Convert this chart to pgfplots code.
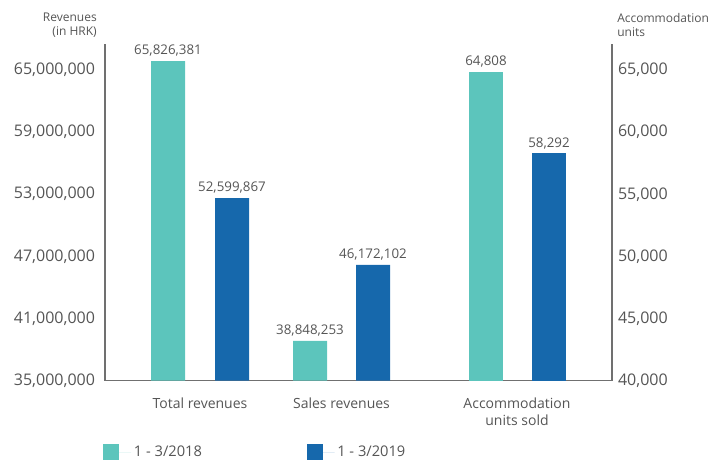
\documentclass[border=0pt]{standalone}
\usepackage{fontspec}
\setmainfont{Open Sans}
\usepackage{pgfplots}
\pgfplotsset{compat=1.18}
\definecolor{tealc}{HTML}{5CC5BC}
\definecolor{bluec}{HTML}{1668AC}
\definecolor{txt}{HTML}{555555}
\definecolor{axl}{HTML}{707070}
\pgfplotsset{
  common/.style={
    anchor=south west, scale only axis,
    width=380.25pt, height=252.75pt,
    xmin=105, xmax=612,
    axis line style={axl, line width=1.1pt, -},
    major tick length=0pt, tick style={draw=none},
    ticklabel style={text=txt},
    yticklabel style={font=\fontsize{12}{14}\selectfont},
    scaled y ticks=false,
    ybar, bar width=25.5pt, bar shift=0pt,
    nodes near coords, point meta=explicit symbolic,
    nodes near coords style={font=\fontsize{10}{12}\selectfont, text=txt, yshift=0pt},
    clip=false,
    axis x line*=bottom,
  }
}
\begin{document}
\begin{tikzpicture}[x=0.75pt,y=0.75pt]
\path (0,0) rectangle (713,460);
\begin{axis}[common, at={(105,76.5)},
  ymin=35000000, ymax=67500000,
  axis y line*=left,
  ytick={35000000,41000000,47000000,53000000,59000000,65000000},
  yticklabels={{35,000,000},{41,000,000},{47,000,000},{53,000,000},{59,000,000},{65,000,000}},
  yticklabel style={xshift=-4pt},
  xtick={200,341.5,517},
  xticklabels={Total revenues, Sales revenues, {Accommodation\\units sold}},
  xticklabel style={align=center, font=\fontsize{10.5}{12.5}\selectfont, yshift=-9.5pt},
  legend columns=2,
  legend image code/.code={\fill[#1] (0pt,-6pt) rectangle (12pt,6pt); \path (12pt,0pt) -- (21pt,0pt);},
  legend style={at={(axis description cs:-0.004,-0.213)}, anchor=west, draw=none, fill=none,
    inner sep=0pt, font=\fontsize{11}{13}\selectfont, text=txt,
    /tikz/every even column/.append style={column sep=76.5pt}},
]
\addplot[fill=tealc, draw=none] coordinates {(168,65826381)[65,826,381] (310,38848253)[38,848,253]};
\addplot[fill=bluec, draw=none] coordinates {(232,52599867)[52,599,867] (373,46172102)[46,172,102]};
\legend{1 - 3/2018, 1 - 3/2019}
\end{axis}
\begin{axis}[common, at={(105,63.5)},
  ymin=40000, ymax=67090,
  axis y line*=right,
  x axis line style={draw=none},
  xtick=\empty,
  ytick={40000,45000,50000,55000,60000,65000},
  yticklabels={{40,000},{45,000},{50,000},{55,000},{60,000},{65,000}},
  yticklabel style={xshift=1pt},
]
\addplot[fill=tealc, draw=none] coordinates {(486,64808)[64,808]};
\addplot[fill=bluec, draw=none] coordinates {(549,58292)[58,292]};
\end{axis}
\node[anchor=north east, align=right, font=\fontsize{9}{10.5}\selectfont, text=txt, inner sep=0pt] at (97,447) {Revenues\\(in HRK)};
\node[anchor=north west, align=left, font=\fontsize{9}{10.5}\selectfont, text=txt, inner sep=0pt] at (617,447) {Accommodation\\units};
\end{tikzpicture}
\end{document}
